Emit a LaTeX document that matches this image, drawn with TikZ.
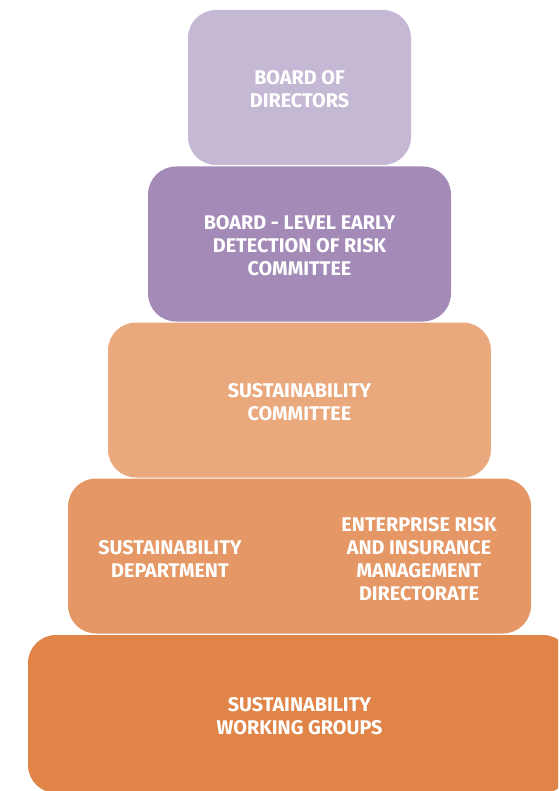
\documentclass[tikz,border=0pt]{standalone}
\usepackage{fontspec}
\setmainfont{Fira Sans}
\usepackage{tikz}
\definecolor{lilac}{HTML}{C5B8D5}
\definecolor{violet}{HTML}{A38AB7}
\definecolor{peach}{HTML}{E9A97D}
\definecolor{apricot}{HTML}{E59866}
\definecolor{orangebase}{HTML}{E08447}
\tikzset{
  tier/.style={rectangle,rounded corners=28pt,inner sep=0pt,outer sep=0pt,minimum height=155pt},
  label/.style={text=white,align=center,yshift=-2pt,font=\bfseries\fontsize{19.8}{23}\selectfont}
}

\begin{document}
\begin{tikzpicture}[x=1pt,y=-1pt]
    \useasboundingbox (0,0) rectangle (558,791);
    \clip (0,0) rectangle (558,791);
    \begin{scope}[every node/.style={tier}]
      \node[fill=lilac,minimum width=223pt] (board) at (299.5,87.5) {};
      \node[fill=violet,minimum width=303pt] (risk) at (299.5,244) {};
      \node[fill=peach,minimum width=383pt] (committee) at (299.5,400) {};
      \node[fill=apricot,minimum width=463pt] (dept) at (299.5,556) {};
      \node[fill=orangebase,minimum width=543pt,minimum height=158pt] (groups) at (299.5,714) {};
    \end{scope}

    \begin{scope}[every node/.style={label}]
      \node (boardtxt) at (board) {BOARD OF\\DIRECTORS};
      \node (risktxt) at (risk) {BOARD - LEVEL EARLY\\DETECTION OF RISK\\COMMITTEE};
      \node (committeetxt) at (committee) {SUSTAINABILITY\\COMMITTEE};
      \node (depttxt) at (170,557) {SUSTAINABILITY\\DEPARTMENT};
      \node (ermtxt) at (419,557) {ENTERPRISE RISK\\AND INSURANCE\\MANAGEMENT\\DIRECTORATE};
      %\node (ermtxt) at (dept.east) {};
      \node (groupstxt) at (299.5,714) {SUSTAINABILITY\\WORKING GROUPS};
    \end{scope}
  \end{tikzpicture}
\end{document}
